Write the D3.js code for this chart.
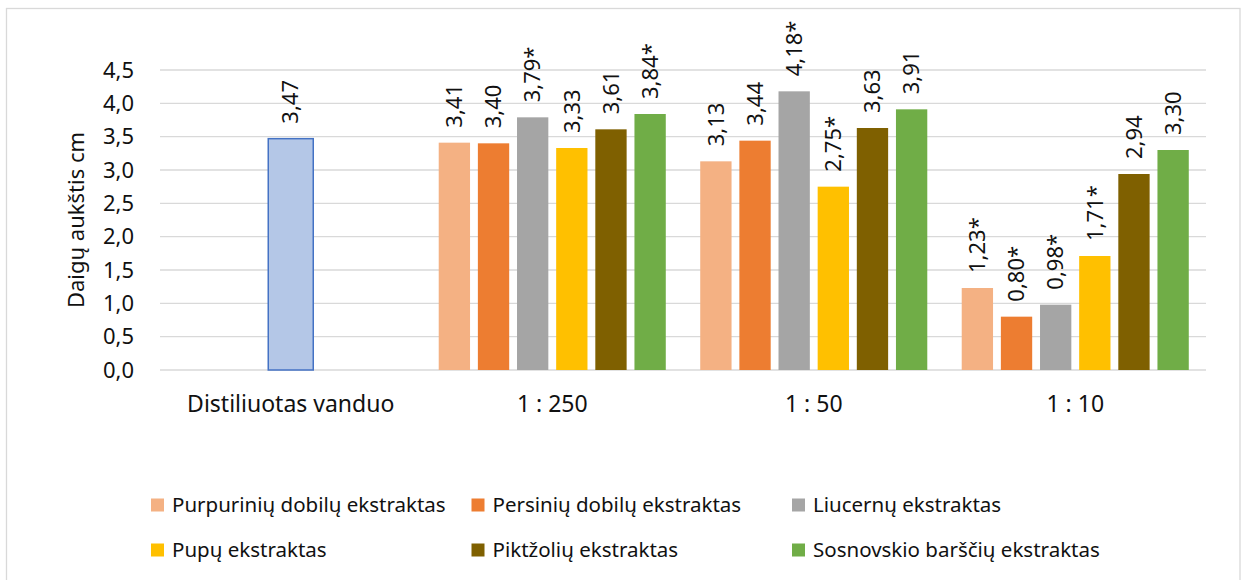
<!DOCTYPE html>
<html>
<head>
<meta charset="utf-8">
<script src="https://cdn.jsdelivr.net/npm/d3@7/dist/d3.min.js"></script>
<style>
  html, body { margin: 0; padding: 0; background: #fff; }
  svg { display: block; font-family: "Noto Sans", "Open Sans", sans-serif; }
</style>
</head>
<body>
<div class="canvas"></div>
<script>
// data
const categories = ['Distiliuotas vanduo', '1 : 250', '1 : 50', '1 : 10'];
const seriesNames = [
    'Purpurinių dobilų ekstraktas',
    'Persinių dobilų ekstraktas',
    'Liucernų ekstraktas',
    'Pupų ekstraktas',
    'Piktžolių ekstraktas',
    'Sosnovskio barščių ekstraktas'
];
const controlValue = 3.47;
const values250 = [3.41, 3.40, 3.79, 3.33, 3.61, 3.84];
const values50 = [3.13, 3.44, 4.18, 2.75, 3.63, 3.91];
const values10 = [1.23, 0.80, 0.98, 1.71, 2.94, 3.30];
const signif250 = [false, false, true, false, false, true];
const signif50 = [false, false, true, true, false, false];
const signif10 = [true, true, true, true, false, false];
const yTicks = [0, 0.5, 1, 1.5, 2, 2.5, 3, 3.5, 4, 4.5];
const yTitle = 'Daigų aukštis cm';

const colours = ['#f4b183', '#ed7d31', '#a5a5a5', '#ffc000', '#7f6000', '#70ad47'];
const textCol = '#111';

const dims = { width: 1244, height: 580 };
const plot = { left: 160, right: 1206, top: 70, bottom: 370 };

// lithuanian number format (comma decimal)
const lt = d3.formatLocale({ decimal: ',', thousands: ' ', grouping: [3], currency: ['', ' €'] });
const fmtTick = lt.format('.1f');
const fmtVal = lt.format('.2f');

// create svg container
const svg = d3.select('.canvas')
    .append('svg')
    .attr('width', dims.width)
    .attr('height', dims.height);

// outer chart border (bottom edge sits below the picture)
svg.append('rect')
    .attr('x', 6.5).attr('y', 8.5)
    .attr('width', 1233.5).attr('height', 590)
    .attr('fill', '#fff')
    .attr('stroke', '#d9d9d9')
    .attr('stroke-width', 1.3);

// scales
const x = d3.scaleBand()
    .domain(categories)
    .range([plot.left, plot.right])
    .padding(0);

const inner = d3.scaleBand()
    .domain(seriesNames)
    .range([0, x.bandwidth()])
    .paddingInner(0.2)
    .paddingOuter(0.44);

const y = d3.scaleLinear()
    .domain([0, 4.5])
    .range([plot.bottom, plot.top]);

const colour = d3.scaleOrdinal(colours).domain(seriesNames);

// gridlines
svg.append('g')
    .selectAll('line')
    .data(yTicks)
    .enter()
    .append('line')
    .attr('x1', plot.left)
    .attr('x2', plot.right)
    .attr('y1', d => y(d))
    .attr('y2', d => y(d))
    .attr('stroke', '#d9d9d9')
    .attr('stroke-width', 1.3);

// y axis tick labels
svg.append('g')
    .selectAll('text')
    .data(yTicks)
    .enter()
    .append('text')
    .attr('x', 134)
    .attr('y', d => y(d))
    .attr('dy', '0.35em')
    .attr('text-anchor', 'end')
    .attr('font-size', 22)
    .attr('fill', textCol)
    .text(d => fmtTick(d));

// y axis title
svg.append('text')
    .attr('transform', `translate(84, ${(plot.top + plot.bottom) / 2}) rotate(-90)`)
    .attr('text-anchor', 'middle')
    .attr('font-size', 22)
    .attr('fill', textCol)
    .text(yTitle);

// category labels
svg.append('g')
    .selectAll('text')
    .data(categories)
    .enter()
    .append('text')
    .attr('x', d => x(d) + x.bandwidth() / 2)
    .attr('y', 412)
    .attr('text-anchor', 'middle')
    .attr('font-size', 23)
    .attr('fill', textCol)
    .text(d => d);

// flatten grouped data
const groupData = [
    { cat: '1 : 250', values: values250, signif: signif250 },
    { cat: '1 : 50', values: values50, signif: signif50 },
    { cat: '1 : 10', values: values10, signif: signif10 }
];
const bars = [];
groupData.forEach(g => {
    g.values.forEach((v, i) => {
        bars.push({ cat: g.cat, name: seriesNames[i], value: v, star: g.signif[i] });
    });
});

// control bar (distilled water)
const ctrlW = 45;
const ctrlX = x(categories[0]) + x.bandwidth() / 2 - ctrlW / 2;
svg.append('rect')
    .attr('x', ctrlX)
    .attr('y', y(controlValue))
    .attr('width', ctrlW)
    .attr('height', y(0) - y(controlValue))
    .attr('fill', '#b4c7e7')
    .attr('stroke', '#4472c4')
    .attr('stroke-width', 1.5);

svg.append('text')
    .attr('transform', `translate(${ctrlX + ctrlW / 2}, ${y(controlValue) - 15}) rotate(-90)`)
    .attr('dy', '0.35em')
    .attr('font-size', 22)
    .attr('fill', textCol)
    .text(fmtVal(controlValue));

// extract bars
svg.append('g')
    .selectAll('rect')
    .data(bars)
    .enter()
    .append('rect')
    .attr('x', d => x(d.cat) + inner(d.name))
    .attr('y', d => y(d.value))
    .attr('width', inner.bandwidth())
    .attr('height', d => y(0) - y(d.value))
    .attr('fill', d => colour(d.name));

// value labels
svg.append('g')
    .selectAll('text')
    .data(bars)
    .enter()
    .append('text')
    .attr('transform', d => `translate(${x(d.cat) + inner(d.name) + inner.bandwidth() / 2}, ${y(d.value) - 15}) rotate(-90)`)
    .attr('dy', '0.35em')
    .attr('font-size', 22)
    .attr('fill', textCol)
    .text(d => fmtVal(d.value) + (d.star ? '*' : ''));

// legend - 3 columns, 2 rows
const legend = svg.append('g')
    .selectAll('g')
    .data(seriesNames)
    .enter()
    .append('g')
    .attr('transform', (d, i) => `translate(${151 + (i % 3) * 320.5}, ${505 + Math.floor(i / 3) * 45})`);

legend.append('rect')
    .attr('x', 0)
    .attr('y', -6.5)
    .attr('width', 13)
    .attr('height', 13)
    .attr('fill', d => colour(d));

legend.append('text')
    .attr('x', 21)
    .attr('y', 0)
    .attr('dy', '0.35em')
    .attr('font-size', 20.5)
    .attr('fill', textCol)
    .text(d => d);
</script>
</body>
</html>
